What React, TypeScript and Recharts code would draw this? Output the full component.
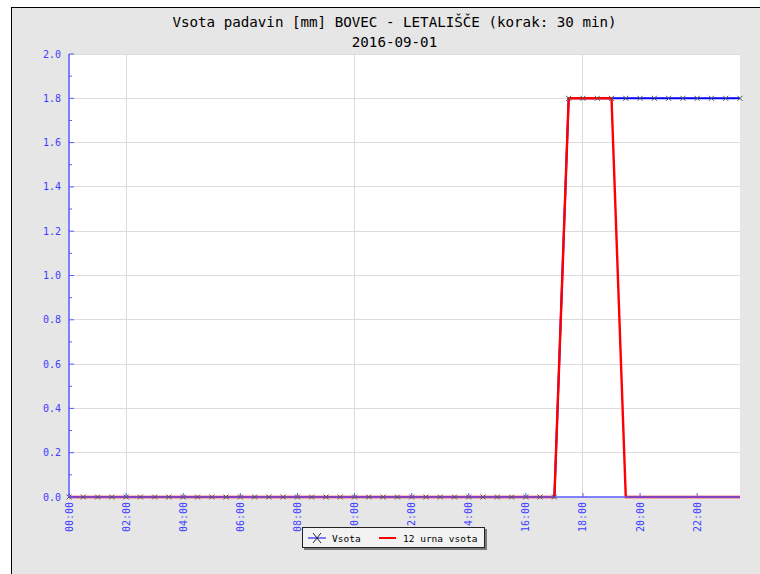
import { CartesianGrid, Line, LineChart, XAxis, YAxis } from 'recharts';

const times = [
  '00:00', '00:30', '01:00', '01:30', '02:00', '02:30', '03:00', '03:30',
  '04:00', '04:30', '05:00', '05:30', '06:00', '06:30', '07:00', '07:30',
  '08:00', '08:30', '09:00', '09:30', '10:00', '10:30', '11:00', '11:30',
  '12:00', '12:30', '13:00', '13:30', '14:00', '14:30', '15:00', '15:30',
  '16:00', '16:30', '17:00', '17:30', '18:00', '18:30', '19:00', '19:30',
  '20:00', '20:30', '21:00', '21:30', '22:00', '22:30', '23:00', '23:30',
];

// Vsota (mm)
const vsota = [
  0, 0, 0, 0, 0, 0, 0, 0, 0, 0, 0, 0, 0, 0, 0, 0,
  0, 0, 0, 0, 0, 0, 0, 0, 0, 0, 0, 0, 0, 0, 0, 0,
  0, 0, 0, 1.8, 1.8, 1.8, 1.8, 1.8, 1.8, 1.8, 1.8, 1.8, 1.8, 1.8, 1.8, 1.8,
];

// 12 urna vsota (mm)
const vsota12 = [
  0, 0, 0, 0, 0, 0, 0, 0, 0, 0, 0, 0, 0, 0, 0, 0,
  0, 0, 0, 0, 0, 0, 0, 0, 0, 0, 0, 0, 0, 0, 0, 0,
  0, 0, 0, 1.8, 1.8, 1.8, 1.8, 0, 0, 0, 0, 0, 0, 0, 0, 0,
];

const yTicks = [0, 0.1, 0.2, 0.3, 0.4, 0.5, 0.6, 0.7, 0.8, 0.9, 1.0, 1.1, 1.2, 1.3, 1.4, 1.5, 1.6, 1.7, 1.8, 1.9, 2.0];
const yGrid = [0.2, 0.4, 0.6, 0.8, 1.0, 1.2, 1.4, 1.6, 1.8, 2.0];
const xGrid = ['02:00', '04:00', '06:00', '08:00', '10:00', '12:00', '14:00', '16:00', '18:00', '20:00', '22:00'];

const title = 'Vsota padavin [mm] BOVEC - LETALIŠČE (korak: 30 min)';
const subtitle = '2016-09-01';

const MONO = '"DejaVu Sans Mono", monospace';
const AXIS = '#5a5aff';
const LABEL = '#3c3cff';

const data = times.map((time, i) => ({ time, vsota: vsota[i], vsota12: vsota12[i] }));

const Cross = ({ cx, cy }: any) => {
  if (cx == null || cy == null) return null;
  const s = 2.5;
  return (
    <path
      d={`M${cx - s},${cy - s}L${cx + s},${cy + s}M${cx + s},${cy - s}L${cx - s},${cy + s}`}
      stroke="#555"
      strokeWidth={1}
      fill="none"
    />
  );
};

const YTick = ({ x, y, payload }: any) => {
  const v = payload.value as number;
  const major = Math.round(v * 10) % 2 === 0;
  return (
    <g>
      <line x1={x} y1={y} x2={x + (major ? 5 : 3)} y2={y} stroke={AXIS} strokeWidth={1} />
      {major && (
        <text x={x - 8} y={y} textAnchor="end" dominantBaseline="central" fill={LABEL} fontSize={10} fontFamily={MONO}>
          {v.toFixed(1)}
        </text>
      )}
    </g>
  );
};

const XTick = ({ x, y, payload }: any) => (
  <g>
    <line x1={x} y1={y} x2={x} y2={y - 4} stroke={AXIS} strokeWidth={1} />
    <text
      x={x}
      y={y + 5}
      transform={`rotate(-90 ${x} ${y + 5})`}
      textAnchor="end"
      dominantBaseline="central"
      fill={LABEL}
      fontSize={10}
      fontFamily={MONO}
    >
      {payload.value}
    </text>
  </g>
);

export default function App() {
  return (
    <div style={{ position: 'absolute', left: 0, top: 0, width: 760, height: 574, background: '#fff', overflow: 'hidden' }}>
      <div
        style={{
          position: 'absolute',
          left: 11,
          top: 7,
          right: 0,
          bottom: 0,
          background: '#e6e6e6',
          borderTop: '1px solid #000',
          borderLeft: '1px solid #000',
        }}
      />
      <div style={{ position: 'absolute', left: 0, top: 13, width: 789, textAlign: 'center', fontFamily: MONO, fontSize: 14.2, color: '#000', lineHeight: '18px' }}>
        {title}
      </div>
      <div style={{ position: 'absolute', left: 0, top: 33, width: 789, textAlign: 'center', fontFamily: MONO, fontSize: 14.2, color: '#000', lineHeight: '18px' }}>
        {subtitle}
      </div>
      <div style={{ position: 'absolute', left: 0, top: 0 }}>
        <LineChart width={760} height={574} data={data} margin={{ top: 54, right: 20, left: 29, bottom: 37 }}>
          <CartesianGrid stroke="#dcdcdc" fill="#ffffff" horizontalValues={yGrid} verticalValues={xGrid} shapeRendering="crispEdges" />
          <XAxis
            dataKey="time"
            interval={3}
            height={40}
            tickSize={0}
            tickMargin={0}
            tickLine={false}
            axisLine={{ stroke: AXIS, strokeWidth: 1.5 }}
            tick={<XTick />}
          />
          <YAxis
            type="number"
            domain={[0, 2]}
            ticks={yTicks}
            interval={0}
            width={40}
            tickSize={0}
            tickMargin={0}
            tickLine={false}
            axisLine={{ stroke: AXIS, strokeWidth: 1.5 }}
            tick={<YTick />}
          />
          <Line type="linear" dataKey="vsota" stroke="#0000ff" strokeWidth={2} dot={false} activeDot={false} isAnimationActive={false} />
          <Line type="linear" dataKey="vsota12" stroke="#ff0000" strokeWidth={2.4} dot={false} activeDot={false} isAnimationActive={false} />
          <Line type="linear" dataKey="vsota" stroke="none" dot={<Cross />} activeDot={false} legendType="none" isAnimationActive={false} />
        </LineChart>
      </div>
      <div
        style={{
          position: 'absolute',
          left: 302,
          top: 527,
          width: 181,
          height: 19,
          background: '#f2f2f2',
          border: '1px solid #222',
          boxShadow: '2px 2px 0 #7a7a7a',
          fontFamily: MONO,
          fontSize: 9.5,
          color: '#000',
        }}
      >
        <svg width={181} height={19} style={{ position: 'absolute', left: 0, top: 0 }}>
          <line x1={5} y1={10} x2={23} y2={10} stroke="#0000ff" strokeWidth={1} />
          <path d="M10,5L18,15M18,5L10,15" stroke="#223" strokeWidth={1} fill="none" />
          <text x={29} y={10} dominantBaseline="central" fontFamily={MONO} fontSize={9.5} fill="#000">Vsota</text>
          <line x1={76} y1={10} x2={93} y2={10} stroke="#ff0000" strokeWidth={2} />
          <text x={100} y={10} dominantBaseline="central" fontFamily={MONO} fontSize={9.5} fill="#000">12 urna vsota</text>
        </svg>
      </div>
    </div>
  );
}
